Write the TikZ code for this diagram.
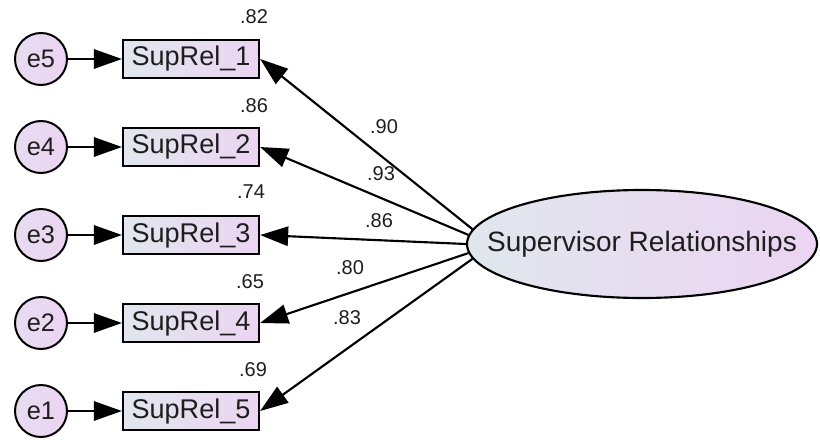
\documentclass[tikz,border=0pt]{standalone}
\usepackage{fontspec}
\setmainfont{Liberation Sans}
\usetikzlibrary{arrows.meta,shapes.geometric}
\definecolor{cbl}{RGB}{224,231,237}
\definecolor{clv}{RGB}{236,212,242}
\definecolor{txt}{RGB}{30,30,30}
\begin{document}
\begin{tikzpicture}[x=0.75pt,y=-0.75pt,
 obs/.style={draw, line width=1.7pt, minimum width=102pt, minimum height=28.5pt, inner sep=0pt,
   left color=cbl, right color=clv, text=txt, font=\fontsize{20.3}{24}\selectfont},
 err/.style={circle, draw, line width=1.5pt, minimum size=39pt, inner sep=0pt,
   left color=cbl!40!clv, right color=clv, text=txt, font=\fontsize{19}{23}\selectfont},
 lat/.style={ellipse, draw, line width=1.6pt, minimum width=262.5pt, minimum height=81pt, inner sep=0pt,
   left color=cbl, right color=clv, text=txt, font=\fontsize{21}{24}\selectfont},
 arr/.style={line width=1.6pt, -{Triangle[length=21pt,width=14.5pt]}},
 num/.style={font=\fontsize{15}{18}\selectfont, inner sep=0pt, text=txt}]
\useasboundingbox (0,0) rectangle (820,439);

\node[lat] (F) at (642,244) {\makebox[0pt]{Supervisor Relationships}};

\node[obs] (b1) at (191,59) {SupRel\_1};
\node[obs] (b2) at (191,147) {SupRel\_2};
\node[obs] (b3) at (191,235) {SupRel\_3};
\node[obs] (b4) at (191,323) {SupRel\_4};
\node[obs] (b5) at (191,411) {SupRel\_5};

\node[err] (e5) at (41,59) {e5};
\node[err] (e4) at (41,147) {e4};
\node[err] (e3) at (41,235) {e3};
\node[err] (e2) at (41,323) {e2};
\node[err] (e1) at (41,411) {e1};

\draw[arr] (e5) -- (b1);
\draw[arr] (e4) -- (b2);
\draw[arr] (e3) -- (b3);
\draw[arr] (e2) -- (b4);
\draw[arr] (e1) -- (b5);

\draw[arr] (F.175) -- (b1.east);
\draw[arr] (F.177) -- (b2.east);
\draw[arr] (F.180) -- (b3.east);
\draw[arr] (F.183) -- (b4.east);
\draw[arr] (F.185) -- (b5.east);

\node[num] (r1) at (254,17) {.82};
\node[num] (r2) at (254,106) {.86};
\node[num] (r3) at (251,192) {.74};
\node[num] (r4) at (250,282) {.65};
\node[num] (r5) at (253,370) {.69};

\node[num] (w1) at (384,127) {.90};
\node[num] (w2) at (381,174) {.93};
\node[num] (w3) at (379,221) {.86};
\node[num] (w4) at (350,268) {.80};
\node[num] (w5) at (347,318) {.83};
\end{tikzpicture}
\end{document}
